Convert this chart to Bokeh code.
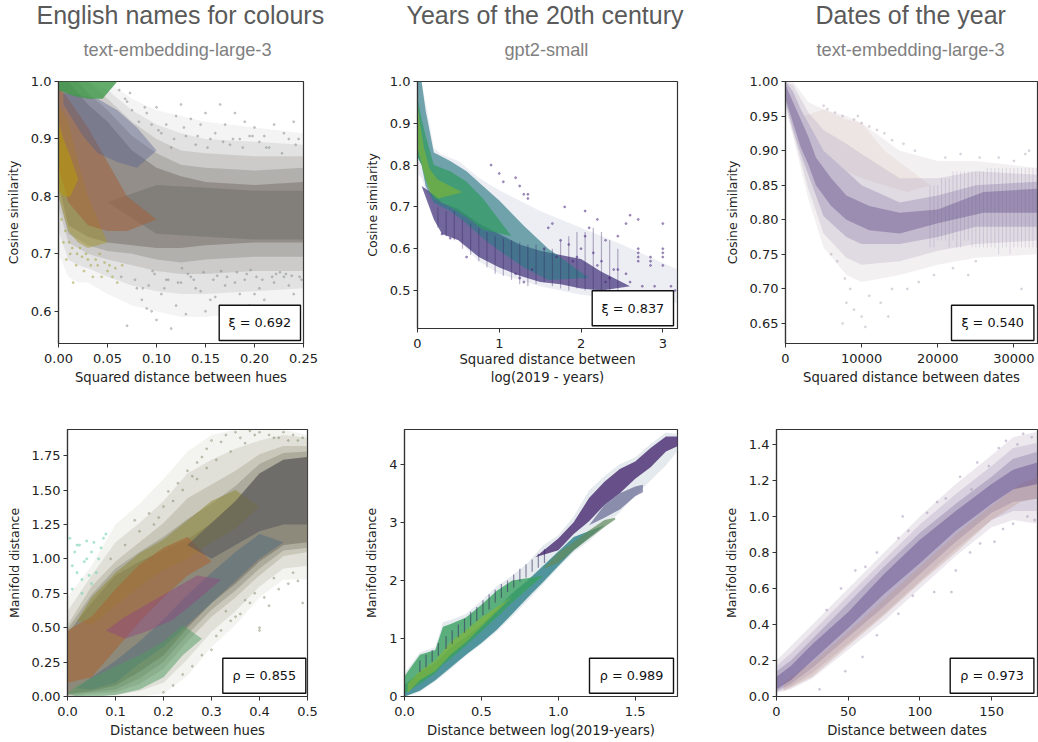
from bokeh.embed import file_html
from bokeh.resources import INLINE
from bokeh.plotting import figure
from bokeh.layouts import column, row
from bokeh.models import BoxAnnotation, FixedTicker, Label

# ---------- text ----------
titles = ["English names for colours", "Years of the 20th century", "Dates of the year"]
subtitles = ["text-embedding-large-3", "gpt2-small", "text-embedding-large-3"]
stats = ["ξ = 0.692", "ξ = 0.837", "ξ = 0.540", "ρ = 0.855", "ρ = 0.989", "ρ = 0.973"]
xlabels = ["Squared distance between hues", "Squared distance between\nlog(2019 - years)",
           "Squared distance between dates", "Distance between hues",
           "Distance between log(2019-years)", "Distance between dates"]
ylabels = ["Cosine similarity"] * 3 + ["Manifold distance"] * 3

# ---------- ticks ----------
p1_xt = [0, .05, .10, .15, .20, .25]; p1_xl = ["0.00", "0.05", "0.10", "0.15", "0.20", "0.25"]
p1_yt = [.6, .7, .8, .9, 1.0];        p1_yl = ["0.6", "0.7", "0.8", "0.9", "1.0"]
p2_xt = [0, 1, 2, 3];                 p2_xl = ["0", "1", "2", "3"]
p2_yt = [.5, .6, .7, .8, .9, 1.0];    p2_yl = ["0.5", "0.6", "0.7", "0.8", "0.9", "1.0"]
p3_xt = [0, 10000, 20000, 30000];     p3_xl = ["0", "10000", "20000", "30000"]
p3_yt = [.65, .70, .75, .80, .85, .90, .95, 1.0]
p3_yl = ["0.65", "0.70", "0.75", "0.80", "0.85", "0.90", "0.95", "1.00"]
p4_xt = [0, .1, .2, .3, .4, .5];      p4_xl = ["0.0", "0.1", "0.2", "0.3", "0.4", "0.5"]
p4_yt = [0, .25, .5, .75, 1.0, 1.25, 1.5, 1.75]
p4_yl = ["0.00", "0.25", "0.50", "0.75", "1.00", "1.25", "1.50", "1.75"]
p5_xt = [0, .5, 1.0, 1.5];            p5_xl = ["0.0", "0.5", "1.0", "1.5"]
p5_yt = [0, 1, 2, 3, 4];              p5_yl = ["0", "1", "2", "3", "4"]
p6_xt = [0, 50, 100, 150];            p6_xl = ["0", "50", "100", "150"]
p6_yt = [0, .2, .4, .6, .8, 1.0, 1.2, 1.4]
p6_yl = ["0.0", "0.2", "0.4", "0.6", "0.8", "1.0", "1.2", "1.4"]

# ---------- panel 1: envelopes of the cloud ----------
p1_x = [0, .01, .02, .03, .05, .075, .10, .125, .15, .20, .25]
p1_out_lo = [.70, .66, .65, .65, .63, .61, .60, .59, .59, .60, .61]
p1_out_hi = [1.0, 1.0, 1.0, 1.0, 1.0, .97, .95, .94, .93, .92, .91]
p1_a_lo = [.74, .69, .68, .675, .66, .645, .635, .63, .63, .635, .64]
p1_a_hi = [1.0, 1.0, 1.0, 1.0, .985, .95, .925, .91, .90, .895, .89]
p1_mid_lo = [.78, .72, .71, .70, .69, .68, .67, .665, .665, .67, .67]
p1_mid_hi = [1.0, 1.0, 1.0, 1.0, .97, .93, .90, .88, .875, .87, .87]
p1_b_lo = [.80, .735, .725, .715, .705, .70, .69, .685, .69, .695, .695]
p1_b_hi = [1.0, 1.0, 1.0, .98, .95, .905, .875, .855, .85, .845, .85]
p1_core_lo = [.82, .75, .74, .73, .72, .715, .71, .71, .715, .72, .72]
p1_core_hi = [1.0, 1.0, .98, .96, .93, .88, .85, .835, .825, .82, .825]
p1_olive_x = [0, .01, .02, .03, .05]
p1_olive_lo = [.80, .74, .72, .71, .72]
p1_olive_hi = [.96, .93, .86, .80, .72]
p1_red_x = [0, .01, .03, .05, .07, .10]
p1_red_lo = [.85, .79, .75, .74, .74, .76]
p1_red_hi = [.99, .97, .92, .86, .80, .76]
p1_yellow_x = [0, .005, .012, .02]
p1_yellow_lo = [.81, .80, .80, .83]
p1_yellow_hi = [.93, .90, .87, .83]
p1_green_x = [0, .015, .03, .045, .06]
p1_green_lo = [.985, .975, .97, .97, 1.0]
p1_green_hi = [1.0, 1.0, 1.0, 1.0, 1.0]
p1_blue_x = [.005, .025, .04, .06, .08, .10]
p1_blue_lo = [.96, .905, .875, .86, .85, .88]
p1_blue_hi = [.98, .975, .97, .95, .92, .88]
p1_grey_x = [.05, .10, .15, .20, .25]
p1_grey_lo = [.79, .735, .73, .725, .725]
p1_grey_hi = [.79, .82, .815, .81, .81]
p1_pts_x = [.07, .075, .09, .10, .12, .125, .135, .145, .15, .165, .17, .18, .19, .20, .21, .22, .23, .24,
            .245, .16, .185, .205, .11, .095, .13, .155, .175, .195, .215, .235, .105, .115, .14,
            .08, .085, .09, .095, .105, .115, .12, .13, .14, .15, .16, .175, .185, .195, .21, .225, .24, .07, .10,
            .125, .145, .17, .19, .205, .22, .235, .248, .11, .135, .155, .18, .20, .23,
            .062, .068, .073, .082, .088, .102, .118, .128, .142, .152, .168, .178, .188, .198, .212, .228, .242,
            .064, .078, .092, .108, .122, .138, .158, .172, .192, .208, .218, .232, .246,
            .086, .098, .112, .132, .148, .162, .182, .202, .222, .238, .096, .126, .166, .196, .226]
p1_pts_y = [.965, .95, .945, .955, .94, .96, .935, .925, .945, .96, .925, .945, .93, .92, .905, .925, .91, .93,
            .90, .91, .90, .895, .925, .925, .905, .90, .89, .905, .885, .90, .91, .885, .89,
            .64, .62, .605, .60, .63, .57, .61, .595, .64, .60, .625, .60, .63, .61, .62, .60, .63, .575, .585,
            .65, .635, .645, .655, .64, .65, .645, .655, .655, .66, .62, .65, .63, .66,
            .985, .97, .98, .93, .955, .915, .90, .92, .905, .885, .895, .90, .885, .905, .885, .875, .89,
            .66, .655, .645, .64, .65, .655, .655, .66, .665, .655, .66, .665, .66, .64,
            .665, .655, .665, .668, .662, .668, .66, .665, .662, .67, .675, .67, .672, .668, .675]
p1_olive_pts_x = [.005, .008, .012, .015, .018, .022, .026, .03, .035, .04, .044, .05, .055, .06, .065,
                  .003, .007, .011, .014, .019, .024, .028, .033, .038, .042, .047, .052, .058]
p1_olive_pts_y = [.72, .69, .70, .65, .68, .71, .67, .69, .66, .68, .66, .67, .66, .65, .68,
                  .76, .74, .72, .71, .70, .695, .70, .68, .69, .70, .685, .68, .675]

# ---------- panel 2 ----------
p2_x = [0, .05, .1, .2, .3, .5, .75, 1, 1.5, 2, 2.5, 3.18]
p2_out_lo = [.78, .77, .74, .68, .64, .62, .57, .54, .51, .49, .48, .47]
p2_out_hi = [1.0, 1.0, .95, .84, .825, .81, .77, .74, .69, .65, .61, .55]
p2_dark_x = [.05, .2, .3, .5, .75, 1, 1.25, 1.5, 1.75, 2, 2.25, 2.6]
p2_dark_lo = [.75, .67, .635, .62, .58, .555, .535, .52, .515, .505, .50, .51]
p2_dark_hi = [.75, .73, .71, .695, .66, .635, .61, .595, .585, .575, .545, .51]
p2_teal_x = [0, .05, .1, .2, .4, .6, .8, 1, 1.3, 1.6, 2.1]
p2_teal_lo = [.82, .80, .75, .71, .69, .66, .625, .595, .555, .525, .53]
p2_teal_hi = [1.0, 1.0, .93, .83, .81, .785, .75, .715, .655, .60, .53]
p2_green_x = [0, .05, .1, .2, .4, .6, .8, 1.15]
p2_green_lo = [.82, .80, .765, .72, .70, .675, .645, .63]
p2_green_hi = [.96, .91, .87, .80, .785, .76, .72, .63]
p2_lime_x = [0, .03, .08, .15, .25, .55]
p2_lime_lo = [.84, .82, .78, .735, .72, .735]
p2_lime_hi = [.95, .90, .84, .79, .765, .735]
p2_col_x = [.25, .35, .45, .55, .65, .75, .85, .95, 1.05, 1.15, 1.25, 1.35, 1.45, 1.55, 1.65, 1.75, 1.85, 1.95, 2.05, 2.15, 2.25, 2.35, 2.45]
p2_col_lo = [.65, .63, .62, .60, .585, .57, .555, .54, .535, .525, .515, .51, .515, .52, .51, .505, .50, .505, .50, .50, .50, .495, .49]
p2_col_hi = [.70, .69, .69, .67, .66, .65, .64, .63, .625, .62, .615, .61, .61, .60, .60, .62, .63, .64, .64, .65, .64, .62, .60]
p2_pts_x = [1.2, 1.25, 1.3, 1.35, 1.35, 1.4, 1.55, 1.6, 1.65, 1.7, 1.75, 1.85, 1.9, 1.95, 2, 2.05, 2.1, 2.15, 2.2, 2.25,
            2.3, 2.35, 2.4, 2.45, 2.45, 2.55, 2.55, 2.7, 2.7, 2.7, 2.7, 2.7, 2.85, 2.85, 2.85, 3.0, 3.0, 3.0, 3.0, 3.0,
            2.6, 2.6, 2.75, 2.9, 3.1, 3.15, 2.3, 2.2, 2.05, 1.8, 1.2, 1.25, 1.3, .9, 1.0, 1.05, .6, .4, .3]
p2_pts_y = [.54, .53, .52, .73, .72, .55, .60, .65, .66, .58, .62, .61, .57, .58, .60, .63, .65, .59, .56, .57,
            .52, .53, .55, .63, .55, .66, .54, .67, .60, .59, .58, .57, .58, .57, .56, .66, .60, .59, .58, .56,
            .68, .52, .51, .51, .51, .50, .62, .67, .69, .70, .77, .75, .73, .80, .78, .76, .58, .625, .635]

# ---------- panel 3 ----------
p3_x = [0, 1000, 2000, 3000, 5000, 8000, 10000, 15000, 20000, 25000, 33100]
p3_out_lo = [.96, .92, .875, .83, .76, .72, .71, .72, .735, .745, .75]
p3_out_hi = [1.0, 1.0, .985, .97, .96, .95, .94, .90, .885, .885, .875]
p3_a_lo = [.965, .925, .885, .845, .78, .745, .735, .74, .755, .765, .77]
p3_a_hi = [1.0, .995, .975, .955, .93, .91, .895, .86, .86, .87, .865]
p3_core_lo = [.97, .93, .895, .865, .805, .775, .765, .765, .775, .79, .79]
p3_core_hi = [1.0, .985, .96, .94, .90, .87, .85, .825, .835, .85, .855]
p3_deep_x = [0, 1000, 2000, 3000, 4000, 6000, 8000, 11000, 15000, 20000, 26000, 33100]
p3_deep_lo = [.975, .94, .905, .88, .85, .82, .80, .785, .78, .795, .81, .81]
p3_deep_hi = [.995, .97, .945, .92, .89, .86, .835, .82, .81, .815, .84, .845]
p3_pink_x = [2500, 5000, 8000, 10000, 13000, 16000, 19000]
p3_pink_lo = [.95, .90, .87, .86, .85, .84, .85]
p3_pink_hi = [.95, .96, .945, .94, .90, .875, .85]
p3_col_x = [19000, 19500, 20000, 20500, 21000, 21500, 22000, 22500, 23000, 23500, 24000, 24500, 25000, 25500,
            26000, 26500, 27000, 27500, 28000, 28500, 29000, 29500, 30000, 30500, 31000, 31500, 32000, 32500, 33000]
p3_col_lo = [.76, .76, .77, .77, .77, .76, .77, .76, .76, .77, .77, .76, .76, .76,
             .76, .76, .76, .76, .75, .76, .76, .75, .76, .76, .76, .76, .76, .76, .76]
p3_col_hi = [.85, .85, .85, .86, .86, .86, .87, .87, .87, .87, .87, .87, .87, .87,
             .87, .875, .875, .875, .875, .875, .875, .875, .875, .875, .875, .875, .875, .875, .875]
p3_pts_x = [5000, 5500, 6500, 7500, 9000, 9500, 10000, 11000, 12000, 13000, 14000, 15500, 17000, 21000, 23000, 25500,
            28000, 30000, 31500, 32000, 8000, 8500, 7500, 9000, 10000, 11000, 12500, 14000, 16000, 17500, 19500, 22000,
            24000, 25000, 31000, 7800, 6800, 6000, 10500, 13500]
p3_pts_y = [.965, .96, .955, .95, .945, .95, .94, .935, .93, .925, .915, .91, .90, .89, .895, .89,
            .89, .885, .895, .90, .68, .70, .65, .67, .66, .69, .68, .70, .70, .71, .72, .73,
            .72, .74, .70, .715, .74, .75, .645, .66]

# ---------- panel 4 ----------
p4_x = [0, .05, .10, .15, .20, .25, .30, .35, .40, .45, .50]
p4_out_lo = [0, 0, 0, 0, .02, .15, .36, .52, .72, .85, .85]
p4_out_hi = [.72, .95, 1.25, 1.40, 1.58, 1.78, 1.90, 1.94, 1.94, 1.94, 1.90]
p4_a_lo = [0, .01, .01, .04, .10, .27, .47, .62, .80, .93, .95]
p4_a_hi = [.62, .88, 1.12, 1.26, 1.42, 1.62, 1.72, 1.80, 1.86, 1.90, 1.88]
p4_mid_lo = [0, .02, .03, .09, .20, .40, .58, .72, .88, 1.02, 1.05]
p4_mid_hi = [.52, .80, .98, 1.12, 1.26, 1.44, 1.54, 1.64, 1.76, 1.82, 1.82]
p4_b_lo = [.01, .03, .05, .13, .25, .45, .63, .77, .93, 1.06, 1.08]
p4_b_hi = [.49, .74, .93, 1.05, 1.16, 1.29, 1.40, 1.53, 1.69, 1.77, 1.78]
p4_core_lo = [.02, .04, .08, .18, .30, .50, .68, .82, .98, 1.10, 1.12]
p4_core_hi = [.46, .68, .88, .98, 1.06, 1.14, 1.26, 1.42, 1.62, 1.72, 1.74]
p4_orange_x = [0, .05, .10, .15, .20, .25, .30]
p4_orange_lo = [.10, .14, .34, .54, .72, .88, .98]
p4_orange_hi = [.48, .58, .78, .96, 1.08, 1.16, .98]
p4_olive_x = [.02, .05, .10, .15, .20, .25, .30, .35, .40]
p4_olive_lo = [.55, .52, .66, .80, .92, 1.00, 1.12, 1.22, 1.38]
p4_olive_hi = [.55, .72, .90, 1.04, 1.14, 1.28, 1.42, 1.50, 1.38]
p4_magenta_x = [.08, .12, .17, .22, .27, .32]
p4_magenta_lo = [.48, .42, .48, .56, .70, .85]
p4_magenta_hi = [.48, .58, .68, .78, .88, .85]
p4_green_x = [0, .02, .06, .10, .15, .20, .24, .28]
p4_green_lo = [.02, .0, .0, .01, .05, .14, .30, .42]
p4_green_hi = [.02, .08, .15, .22, .30, .40, .52, .42]
p4_blue_x = [.02, .05, .10, .15, .20, .25, .30, .35, .40, .45]
p4_blue_lo = [.06, .05, .10, .24, .36, .52, .68, .84, 1.00, 1.12]
p4_blue_hi = [.06, .14, .26, .40, .56, .74, .90, 1.05, 1.18, 1.12]
p4_dark_x = [.25, .30, .35, .40, .45, .50]
p4_dark_lo = [1.10, 1.00, 1.10, 1.20, 1.25, 1.25]
p4_dark_hi = [1.10, 1.26, 1.42, 1.62, 1.72, 1.74]
p4_teal_pts_x = [.005, .01, .015, .02, .025, .03, .035, .04, .045, .05, .055, .06, .065, .07, .075, .08, .01, .02, .03, .04, .05]
p4_teal_pts_y = [1.15, .95, 1.05, .90, 1.1, .85, .98, 1.13, .88, 1.05, 1.12, .90, 1.0, 1.08, 1.15, 1.18, .78, 1.1, .75, 1.0, .82]
p4_pts_x = [.14, .17, .20, .21, .23, .25, .26, .27, .28, .29, .30, .32, .33, .35, .36, .38, .39, .40, .42, .44, .45, .47, .48, .49,
            .30, .32, .34, .36, .38, .40, .42, .44, .46, .48, .49, .20, .22, .24, .26, .28, .40, .41,
            .19, .22, .24, .27, .29, .31, .34, .37, .43, .46, .15, .18, .12, .09, .33, .37, .39, .43, .47, .31, .35]
p4_pts_y = [1.28, 1.33, 1.38, 1.49, 1.55, 1.64, 1.60, 1.70, 1.74, 1.80, 1.86, 1.85, 1.90, 1.92, 1.88, 1.93, 1.90, 1.92, 1.90, 1.88, 1.92, 1.90, 1.86, 1.88,
            .34, .48, .55, .60, .68, .50, .66, .78, .82, .84, .68, .03, .08, .16, .22, .30, .48, .72,
            1.30, 1.42, 1.50, 1.58, 1.66, 1.72, 1.78, 1.84, 1.88, 1.86, 1.20, 1.25, 1.10, 1.00, .62, .70, .75, .86, .90, .44, .58]

# ---------- panel 5 ----------
p5_x = [0, .05, .1, .2, .25, .3, .4, .5, .6, .7, .8, .9, 1.0, 1.1, 1.2, 1.3, 1.4, 1.5, 1.6, 1.7, 1.78]
p5_out_lo = [0, .03, .08, .26, .36, .47, .70, .90, 1.12, 1.38, 1.65, 1.93, 2.22, 2.48, 2.68, 2.92, 3.18, 3.46, 3.72, 3.98, 4.25]
p5_out_hi = [.40, .58, .76, .85, 1.28, 1.32, 1.42, 1.65, 1.90, 2.08, 2.30, 2.60, 2.78, 3.10, 3.55, 3.80, 4.00, 4.12, 4.35, 4.55, 4.52]
p5_teal_x = [0, .1, .2, .3, .4, .5, .6, .7, .8, .9, 1.0, 1.1, 1.3]
p5_teal_lo = [0, .1, .28, .50, .72, .92, 1.15, 1.42, 1.70, 1.97, 2.25, 2.52, 2.95]
p5_teal_hi = [.20, .42, .58, .84, 1.03, 1.24, 1.50, 1.78, 2.00, 2.25, 2.50, 2.75, 2.95]
p5_green_x = [0, .1, .2, .25, .3, .4, .5, .6, .7, .9]
p5_green_lo = [.05, .22, .40, .55, .65, .88, 1.12, 1.36, 1.62, 2.08]
p5_green_hi = [.35, .72, .80, 1.20, 1.25, 1.36, 1.58, 1.82, 2.00, 2.08]
p5_lime_x = [.02, .1, .2, .3, .4, .5, .7]
p5_lime_lo = [.06, .28, .44, .72, .94, 1.20, 1.72]
p5_lime_hi = [.22, .44, .62, .94, 1.14, 1.36, 1.72]
p5_purple_x = [.85, 1.0, 1.1, 1.2, 1.3, 1.4, 1.5, 1.6, 1.7, 1.78]
p5_purple_lo = [2.4, 2.52, 2.80, 3.02, 3.30, 3.50, 3.75, 3.95, 4.22, 4.32]
p5_purple_hi = [2.4, 2.72, 3.00, 3.42, 3.70, 3.92, 4.05, 4.28, 4.48, 4.48]
p5_olive_x = [.9, 1.0, 1.1, 1.2, 1.3, 1.37]
p5_olive_lo = [2.2, 2.30, 2.52, 2.72, 2.92, 3.05]
p5_olive_hi = [2.2, 2.48, 2.66, 2.86, 3.04, 3.08]
p5_low_x = [1.2, 1.3, 1.4, 1.5, 1.55]
p5_low_lo = [2.95, 3.08, 3.22, 3.45, 3.52]
p5_low_hi = [2.95, 3.30, 3.50, 3.62, 3.65]
p5_spike_x = [.10, .14, .18, .22, .27, .31, .35, .39, .43, .47, .51, .55, .59, .63, .67, .71, .75, .79, .83, .87, .91]
p5_spike_lo = [.42, .50, .60, .70, .82, .90, 1.02, 1.10, 1.22, 1.30, 1.40, 1.50, 1.62, 1.70, 1.80, 1.88, 1.98, 2.05, 2.15, 2.22, 2.30]
p5_spike_hi = [.62, .72, .80, .92, 1.04, 1.14, 1.24, 1.34, 1.46, 1.54, 1.66, 1.76, 1.84, 1.94, 2.00, 2.10, 2.20, 2.28, 2.36, 2.46, 2.54]

# ---------- panel 6 ----------
p6_x = [0, 10, 25, 50, 75, 100, 125, 150, 165, 182]
p6_out_lo = [.02, .04, .10, .26, .42, .60, .78, .94, .98, .96]
p6_out_hi = [.20, .28, .40, .60, .80, 1.00, 1.18, 1.34, 1.44, 1.47]
p6_a_lo = [.025, .055, .13, .295, .46, .64, .82, .98, 1.03, 1.03]
p6_a_hi = [.17, .24, .36, .56, .76, .955, 1.125, 1.28, 1.38, 1.41]
p6_core_lo = [.03, .07, .16, .33, .50, .68, .86, 1.02, 1.08, 1.10]
p6_core_hi = [.14, .20, .32, .52, .72, .91, 1.07, 1.22, 1.32, 1.36]
p6_deep_x = [0, 10, 25, 50, 75, 100, 125, 150, 165, 182]
p6_deep_lo = [.04, .09, .20, .38, .57, .74, .92, 1.07, 1.15, 1.18]
p6_deep_hi = [.11, .17, .29, .47, .68, .87, 1.03, 1.18, 1.26, 1.30]
p6_pink_x = [5, 25, 50, 75, 100, 125, 150, 170, 182]
p6_pink_lo = [.03, .11, .28, .45, .63, .80, .98, 1.08, 1.10]
p6_pink_hi = [.08, .19, .36, .54, .72, .90, 1.06, 1.18, 1.22]
p6_pts_x = [35, 45, 55, 62, 70, 85, 88, 92, 105, 112, 118, 128, 136, 140, 148, 155, 160, 168, 172, 178, 70, 85, 95, 110, 125, 135, 142, 152,
            158, 165, 175, 180, 122, 60, 48, 30]
p6_pts_y = [.48, .60, .70, .72, .80, .88, 1.00, .92, 1.02, 1.08, 1.10, 1.22, 1.15, 1.30, 1.28, 1.38, 1.42, 1.40, 1.46, 1.44, .34, .46, .56, .58, .70, .80, .85, .86,
            .93, .96, 1.0, .98, .58, .22, .14, .04]

GREY = "#6f6b66"
STRIP = 66  # height of the strip that holds title and subtitle above the top row

# frame boxes (left, right, top, bottom) inside each figure, and the stat box
panels = [
    dict(w=350, h=334, l=58.3, r=302.7, t=15, b=277.3, x=(0, .25), y=(.544, 1.0), xt=p1_xt, xl=p1_xl, yt=p1_yt, yl=p1_yl,
         box=(219, 300.3, 239, 274.3), tleft=36, sleft=83),
    dict(w=350, h=334, l=67.3, r=326.7, t=15, b=262, x=(0, 3.18), y=(.409, 1.0), xt=p2_xt, xl=p2_xl, yt=p2_yt, yl=p2_yl,
         box=(242, 323.3, 224.3, 259.3), tleft=56, sleft=154),
    dict(w=338, h=334, l=85.3, r=336.7, t=15, b=277.3, x=(0, 33100), y=(.621, 1.0), xt=p3_xt, xl=p3_xl, yt=p3_yt, yl=p3_yl,
         box=(251.3, 333.7, 239, 274.3), tleft=115, sleft=116),
    dict(w=350, h=342, l=66.7, r=307, t=28.7, b=296.3, x=(0, .5), y=(0, 1.94), xt=p4_xt, xl=p4_xl, yt=p4_yt, yl=p4_yl,
         box=(222, 305, 258, 293)),
    dict(w=350, h=342, l=54.3, r=326.7, t=28.7, b=296.3, x=(0, 1.775), y=(0, 4.6), xt=p5_xt, xl=p5_xl, yt=p5_yt, yl=p5_yl,
         box=(239.3, 323.3, 258, 293)),
    dict(w=338, h=342, l=76.3, r=336.7, t=28.7, b=296.3, x=(0, 182), y=(0, 1.483), xt=p6_xt, xl=p6_xl, yt=p6_yt, yl=p6_yl,
         box=(250, 333.7, 258, 293)),
]


def strip(i):
    c = panels[i]
    s = figure(width=c["w"], height=STRIP, x_range=(0, c["w"]), y_range=(0, STRIP), tools="", toolbar_location=None,
               output_backend="svg", min_border=0, x_axis_type=None, y_axis_type=None, outline_line_color=None,
               border_fill_color=None, background_fill_color=None, frame_align=False)
    s.grid.visible = False
    s.add_layout(Label(x=c["tleft"], y=STRIP - 14, text=titles[i], text_align="left", text_baseline="alphabetic",
                       text_font="Liberation Sans", text_font_size="25px", text_color="#5a5a5a"))
    s.add_layout(Label(x=c["sleft"], y=STRIP - 49, text=subtitles[i], text_align="left", text_baseline="alphabetic",
                       text_font="Liberation Sans", text_font_size="18.2px", text_color="#808080"))
    return s


def make(i):
    c = panels[i]
    fw = c["r"] - c["l"]
    fh = c["b"] - c["t"]
    p = figure(width=c["w"], height=c["h"], x_range=c["x"], y_range=c["y"], tools="", toolbar_location=None,
               output_backend="svg", min_border_left=int(round(c["l"])), min_border_right=int(round(c["w"] - c["r"])),
               min_border_top=int(round(c["t"])), min_border_bottom=int(round(c["h"] - c["b"])),
               background_fill_color="white", border_fill_color=None, frame_align=False)
    p.grid.visible = False
    p.outline_line_color = "#333333"
    p.outline_line_width = 1.2
    p.xaxis.axis_label = xlabels[i]
    p.yaxis.axis_label = ylabels[i]
    for ax, t, l in ((p.xaxis, c["xt"], c["xl"]), (p.yaxis, c["yt"], c["yl"])):
        ax.ticker = FixedTicker(ticks=t)
        ax.major_label_overrides = dict(zip(t, l))
        ax.minor_tick_line_color = None
        ax.major_tick_in = 0
        ax.major_tick_out = 4
        ax.major_tick_line_color = "#333333"
        ax.axis_line_color = "#333333"
        ax.axis_line_width = 1.2
        ax.major_label_text_font = "DejaVu Sans"
        ax.major_label_text_font_size = "13px"
        ax.major_label_text_color = "#222222"
        ax.major_label_standoff = 3
        ax.axis_label_text_font = "DejaVu Sans"
        ax.axis_label_text_font_style = "normal"
        ax.axis_label_text_color = "#222222"
    p.xaxis.axis_label_text_font_size = "13.2px"
    p.yaxis.axis_label_text_font_size = "12.5px"
    p.xaxis.major_label_standoff = 6
    p.xaxis.axis_label_standoff = 1 if i == 1 else 4
    p.yaxis.axis_label_standoff = 7
    return p, c, fw, fh


def band(p, x, lo, hi, color, alpha):
    p.varea(x=x, y1=lo, y2=hi, fill_color=color, fill_alpha=alpha)


def finish(p, c, i, fh):
    bl, br, bt, bb = c["box"]
    p.add_layout(BoxAnnotation(left=bl - c["l"], right=br - c["l"], top=c["b"] - bt, bottom=c["b"] - bb,
                               left_units="screen", right_units="screen", top_units="screen", bottom_units="screen",
                               fill_color="white", fill_alpha=1, line_color="#111111", line_alpha=1, line_width=1.4, level="annotation"))
    p.add_layout(Label(x=(bl + br) / 2 - c["l"], y=c["b"] - (bt + bb) / 2, x_units="screen", y_units="screen", text=stats[i],
                       text_align="center", text_baseline="middle", text_font="DejaVu Sans",
                       text_font_size="12.8px", text_color="#111111", level="annotation"))


# panel 1
f1, c, fw, fh = make(0)
band(f1, p1_x, p1_out_lo, p1_out_hi, "#8a8a8c", .09)
band(f1, p1_x, p1_a_lo, p1_a_hi, "#807d7a", .15)
band(f1, p1_x, p1_mid_lo, p1_mid_hi, "#77736e", .2)
band(f1, p1_x, p1_b_lo, p1_b_hi, "#706a64", .28)
band(f1, p1_x, p1_core_lo, p1_core_hi, "#6d6560", .45)
band(f1, p1_grey_x, p1_grey_lo, p1_grey_hi, GREY, .45)
band(f1, p1_olive_x, p1_olive_lo, p1_olive_hi, "#a3952f", .5)
band(f1, p1_red_x, p1_red_lo, p1_red_hi, "#a4603a", .55)
band(f1, p1_yellow_x, p1_yellow_lo, p1_yellow_hi, "#b49a10", .6)
band(f1, p1_blue_x, p1_blue_lo, p1_blue_hi, "#55608f", .4)
band(f1, p1_green_x, p1_green_lo, p1_green_hi, "#3f9a4a", .8)
f1.scatter(p1_pts_x, p1_pts_y, size=2, color="#8a8f92", alpha=.4)
f1.scatter(p1_olive_pts_x, p1_olive_pts_y, size=2, color="#a9a84a", alpha=.45)
finish(f1, c, 0, fh)

# panel 2
f2, c, fw, fh = make(1)
band(f2, p2_x, p2_out_lo, p2_out_hi, "#8f94b8", .16)
band(f2, p2_dark_x, p2_dark_lo, p2_dark_hi, "#3d2e78", .7)
band(f2, p2_teal_x, p2_teal_lo, p2_teal_hi, "#2c7a86", .65)
band(f2, p2_green_x, p2_green_lo, p2_green_hi, "#2f9a5f", .7)
band(f2, p2_lime_x, p2_lime_lo, p2_lime_hi, "#7cb338", .65)
f2.segment(p2_col_x, p2_col_lo, p2_col_x, p2_col_hi, line_color="#35205f", line_alpha=.35, line_width=1.2)
f2.scatter(p2_pts_x, p2_pts_y, size=2, color="#45237a", alpha=.4)
finish(f2, c, 1, fh)

# panel 3
f3, c, fw, fh = make(2)
band(f3, p3_x, p3_out_lo, p3_out_hi, "#c9bcc6", .22)
band(f3, p3_pink_x, p3_pink_lo, p3_pink_hi, "#d9b7a8", .2)
band(f3, p3_x, p3_a_lo, p3_a_hi, "#a897b8", .25)
band(f3, p3_x, p3_core_lo, p3_core_hi, "#8a7aa6", .35)
band(f3, p3_deep_x, p3_deep_lo, p3_deep_hi, "#5f4a86", .4)
f3.segment(p3_col_x, p3_col_lo, p3_col_x, p3_col_hi, line_color="#6a5a92", line_alpha=.18, line_width=1)
f3.scatter(p3_pts_x, p3_pts_y, size=2, color="#a898b0", alpha=.3)
finish(f3, c, 2, fh)

# panel 4
f4, c, fw, fh = make(3)
band(f4, p4_x, p4_out_lo, p4_out_hi, "#9c9a80", .12)
band(f4, p4_x, p4_a_lo, p4_a_hi, "#8d8a70", .18)
band(f4, p4_x, p4_mid_lo, p4_mid_hi, "#7f7a5f", .25)
band(f4, p4_x, p4_b_lo, p4_b_hi, "#74705c", .32)
band(f4, p4_x, p4_core_lo, p4_core_hi, "#6f6a5a", .5)
band(f4, p4_olive_x, p4_olive_lo, p4_olive_hi, "#8f8a3a", .55)
band(f4, p4_orange_x, p4_orange_lo, p4_orange_hi, "#a5683a", .65)
band(f4, p4_blue_x, p4_blue_lo, p4_blue_hi, "#4f6a80", .5)
band(f4, p4_green_x, p4_green_lo, p4_green_hi, "#4f9a5f", .5)
band(f4, p4_magenta_x, p4_magenta_lo, p4_magenta_hi, "#8f4a80", .5)
band(f4, p4_dark_x, p4_dark_lo, p4_dark_hi, "#50505a", .5)
f4.scatter(p4_teal_pts_x, p4_teal_pts_y, size=2.2, color="#70d0b0", alpha=.45)
f4.scatter(p4_pts_x, p4_pts_y, size=2, color="#8a9070", alpha=.4)
finish(f4, c, 3, fh)

# panel 5
f5, c, fw, fh = make(4)
band(f5, p5_x, p5_out_lo, p5_out_hi, "#a8b8c8", .3)
band(f5, p5_teal_x, p5_teal_lo, p5_teal_hi, "#2a7f88", .8)
band(f5, p5_green_x, p5_green_lo, p5_green_hi, "#38a060", .8)
band(f5, p5_lime_x, p5_lime_lo, p5_lime_hi, "#86b53a", .65)
band(f5, p5_purple_x, p5_purple_lo, p5_purple_hi, "#47286f", .8)
band(f5, p5_olive_x, p5_olive_lo, p5_olive_hi, "#5f8a5a", .7)
band(f5, p5_low_x, p5_low_lo, p5_low_hi, "#5a5a8a", .65)
f5.segment(p5_spike_x, p5_spike_lo, p5_spike_x, p5_spike_hi, line_color="#35285f", line_alpha=.55, line_width=1.2)
finish(f5, c, 4, fh)

# panel 6
f6, c, fw, fh = make(5)
band(f6, p6_x, p6_out_lo, p6_out_hi, "#c4b4c8", .3)
band(f6, p6_x, p6_a_lo, p6_a_hi, "#a897b8", .3)
band(f6, p6_x, p6_core_lo, p6_core_hi, "#8d7aa8", .4)
band(f6, p6_pink_x, p6_pink_lo, p6_pink_hi, "#bf9a90", .35)
band(f6, p6_deep_x, p6_deep_lo, p6_deep_hi, "#5f4a8a", .45)
f6.scatter(p6_pts_x, p6_pts_y, size=2, color="#a898b8", alpha=.4)
finish(f6, c, 5, fh)

page = column(row(strip(0), strip(1), strip(2), spacing=0),
              row(f1, f2, f3, spacing=0), row(f4, f5, f6, spacing=0), spacing=0)
open("out.html", "w").write(file_html(page, INLINE))
